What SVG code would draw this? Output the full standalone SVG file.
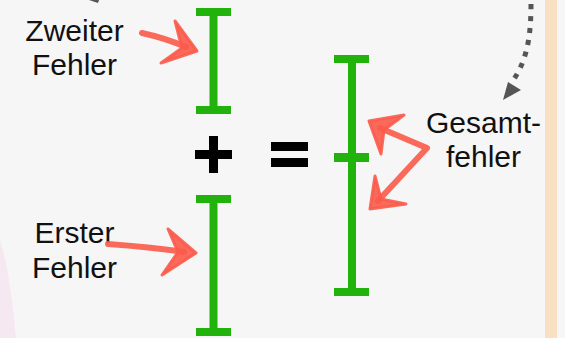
<svg xmlns="http://www.w3.org/2000/svg" width="565" height="338" viewBox="0 0 565 338">
  <defs>
    <style>
      .bar { fill: #21b30b; }
      .sym { fill: #000; }
      .lbl { font-family: "Liberation Sans", Arial, Helvetica, sans-serif; font-size: 30px; fill: #111; text-anchor: middle; }
      .red { stroke: #fb5b4b; stroke-opacity: 0.9; stroke-width: 6; stroke-linecap: round; stroke-linejoin: round; fill: none; }
      .redhead { fill: #fb5b4b; fill-opacity: 0.9; stroke: #fb5b4b; stroke-opacity: 0.9; stroke-width: 3; stroke-linejoin: round; }
      .dots { stroke: #555; stroke-width: 5; stroke-dasharray: 5 7; fill: none; }
      .gray { fill: #555; }
    </style>
    <filter id="soft" x="-10%" y="-10%" width="120%" height="120%">
      <feGaussianBlur stdDeviation="0.7"/>
    </filter>
  </defs>

  <rect x="0" y="0" width="565" height="338" fill="#f6f6f6"/>
  <rect x="545" y="0" width="12" height="338" fill="#f9e0c3"/>
  <polygon points="0,240 6,262 12,300 16,338 0,338" fill="#f6e8f0"/>

  <g id="bar-zweiter">
    <rect class="bar" x="196" y="8" width="35" height="8"/>
    <rect class="bar" x="209.5" y="8" width="8" height="106"/>
    <rect class="bar" x="196" y="106" width="35" height="8"/>
  </g>
  <g id="bar-erster">
    <rect class="bar" x="196" y="195" width="35" height="8"/>
    <rect class="bar" x="209.5" y="195" width="8" height="141"/>
    <rect class="bar" x="196" y="328" width="35" height="8"/>
  </g>
  <g id="bar-gesamt">
    <rect class="bar" x="334" y="55" width="35" height="8"/>
    <rect class="bar" x="348" y="55" width="8" height="241"/>
    <rect class="bar" x="334" y="153" width="35" height="9"/>
    <rect class="bar" x="334" y="288" width="35" height="8"/>
  </g>

  <g id="plus">
    <rect class="sym" x="195" y="150" width="37" height="9"/>
    <rect class="sym" x="209" y="136" width="9" height="37"/>
  </g>
  <g id="equals">
    <rect class="sym" x="271" y="142" width="37" height="9"/>
    <rect class="sym" x="271" y="158" width="37" height="9"/>
  </g>

  <g id="label-zweiter">
    <text class="lbl" x="74.5" y="40.5">Zweiter</text>
    <text class="lbl" x="74.5" y="75">Fehler</text>
  </g>
  <g id="label-erster">
    <text class="lbl" x="74.5" y="242.5">Erster</text>
    <text class="lbl" x="74.5" y="277.5">Fehler</text>
  </g>
  <g id="label-gesamt">
    <text class="lbl" x="483.5" y="133">Gesamt-</text>
    <text class="lbl" x="483.5" y="167">fehler</text>
  </g>

  <g id="connectors">
    <g filter="url(#soft)">
      <path class="red" d="M142,33 Q165,38 186,47"/>
      <polygon class="redhead" points="175,21 197,51 161,63 182,48"/>
      <path class="red" d="M108,244 Q150,247 184,252"/>
      <polygon class="redhead" points="168,229 196,253 162,275 178,252"/>
      <path class="red" d="M380,128 L427,148 L378,201"/>
      <polygon class="redhead" points="404,115 369,121 381,154 384,130"/>
      <polygon class="redhead" points="375,176 370,209 406,204 381,199"/>
    </g>
    <path class="dots" d="M531,4 C531,40 526,62 512,82"/>
    <polygon class="gray" points="503,100 508,82 521,90"/>
    <polygon class="gray" points="89,0 99,0 98,3"/>
  </g>
</svg>
